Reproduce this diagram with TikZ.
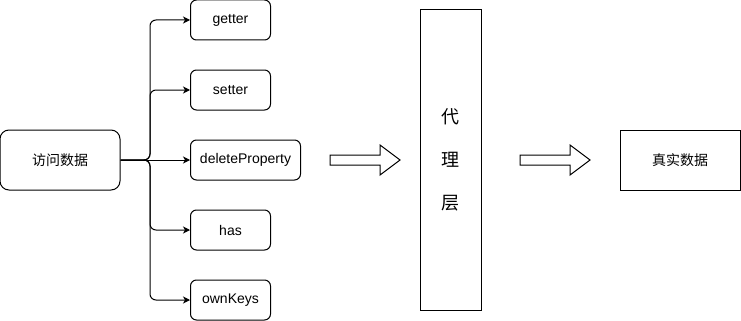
\documentclass[tikz,border=0pt]{standalone}
\usepackage{fontspec}
\setmainfont{Liberation Sans}
\newfontfamily\cjk{Noto Sans CJK SC}
\usetikzlibrary{arrows.meta,positioning}
\tikzset{
  opbox/.style={draw, line width=1pt, rounded corners=6pt, align=center, inner sep=2pt, minimum width=80pt, minimum height=40pt, font=\fontsize{14}{17}\selectfont},
  bigbox/.style={draw, line width=1pt, align=center, inner sep=2pt, font=\cjk\fontsize{14}{17}\selectfont},
  edge/.style={-{Stealth[length=7pt,width=7pt,inset=2pt]}, line width=1pt, rounded corners=6pt},
  hollowarrow/.style={draw, line width=1pt, line join=miter}
}

\begin{document}
\begin{tikzpicture}[x=1pt, y=-1pt, node distance=29pt]
\useasboundingbox (0,0) rectangle (741,321);
\node[opbox, rounded corners=9pt, minimum width=120pt, minimum height=60pt, font=\cjk\fontsize{14}{17}\selectfont] (visit) at (60,160) {访问数据};
\node[opbox, anchor=west] (getter) at (190,20) {getter};
\node[opbox, below=of getter.south west, anchor=north west] (setter) {setter};
\node[opbox, minimum width=110pt, below=of setter.south west, anchor=north west] (delete) {deleteProperty};
\node[opbox, below=of delete.south west, anchor=north west] (has) {has};
\node[opbox, below=of has.south west, anchor=north west] (ownkeys) {ownKeys};
\node[bigbox, minimum width=61pt, minimum height=300pt, font=\cjk\fontsize{18}{43}\selectfont] (proxy) at (450.5,160) {代\\理\\层};
\node[bigbox, minimum width=120pt, minimum height=60pt] (real) at (680,160) {真实数据};
\coordinate (split) at (150,160);
\foreach \op in {getter,setter,has,ownkeys}
  \draw[edge] (visit.east) -- (split) |- (\op.west);
\draw[edge] (visit.east) -- (delete.west);
\foreach \x in {330,520}
  \draw[hollowarrow] (\x,155) -- ++(50,0) -- ++(0,-10) -- ++(20,15) -- ++(-20,15) -- ++(0,-10) -- ++(-50,0) -- cycle;
\end{tikzpicture}
\end{document}
